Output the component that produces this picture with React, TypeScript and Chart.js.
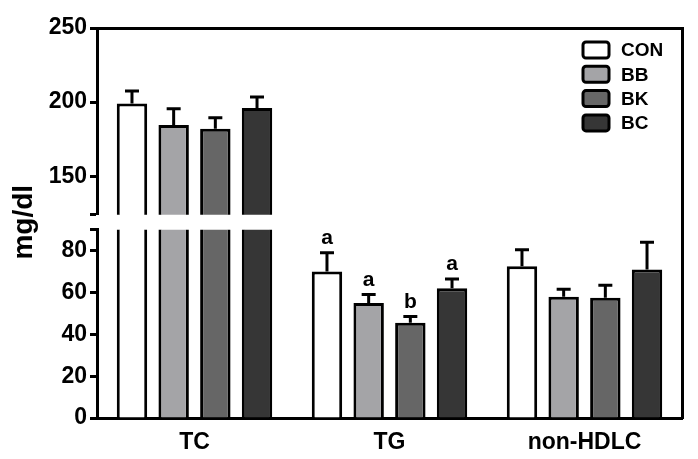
import React, { useEffect, useRef } from 'react';
import { Chart, registerables } from 'chart.js';

Chart.register(...registerables);

const categories = ['TC', 'TG', 'non-HDLC'];
const seriesNames = ['CON', 'BB', 'BK', 'BC'];
const conValues = [199, 70, 72.5];
const bbValues = [184.5, 55, 58];
const bkValues = [182, 45.5, 57.5];
const bcValues = [196, 62, 71];
const conErrors = [8.5, 9, 8];
const bbErrors = [11, 4, 3.5];
const bkErrors = [7.5, 3, 6];
const bcErrors = [7.5, 4.5, 13];
const conLetters = ['', 'a', ''];
const bbLetters = ['', 'a', ''];
const bkLetters = ['', 'b', ''];
const bcLetters = ['', 'a', ''];
const lowTicks = [0, 20, 40, 60, 80];
const highTicks = [150, 200, 250];
const lowRange = [0, 90];
const highRange = [124, 250];
const yTitle = 'mg/dl';
const seriesColors = ['#ffffff', '#a4a4a7', '#666666', '#363636'];

const FONT = '"Liberation Sans", Arial, Helvetica, sans-serif';

const seriesValues = [conValues, bbValues, bkValues, bcValues];
const seriesErrors = [conErrors, bbErrors, bkErrors, bcErrors];
const seriesLetters = [conLetters, bbLetters, bkLetters, bcLetters];

const errorBarsPlugin = {
  id: 'errorBars',
  afterDatasetsDraw(chart: any) {
    const ctx = chart.ctx;
    const area = chart.chartArea;
    chart.data.datasets.forEach((ds: any, di: number) => {
      const meta = chart.getDatasetMeta(di);
      const yScale = chart.scales[ds.yAxisID];
      ctx.save();
      ctx.beginPath();
      ctx.rect(area.left, yScale.top, area.right - area.left, yScale.bottom - yScale.top);
      ctx.clip();
      meta.data.forEach((bar: any, i: number) => {
        const v = ds.data[i];
        const e = ds.errors[i];
        const yTop = yScale.getPixelForValue(v);
        const yCap = yScale.getPixelForValue(v + e);
        ctx.strokeStyle = '#000';
        ctx.lineWidth = 3;
        ctx.lineCap = 'butt';
        ctx.beginPath();
        ctx.moveTo(bar.x, yTop);
        ctx.lineTo(bar.x, yCap);
        ctx.moveTo(bar.x - 7, yCap);
        ctx.lineTo(bar.x + 7, yCap);
        ctx.stroke();
        const letter = ds.letters[i];
        if (letter) {
          ctx.fillStyle = '#000';
          ctx.font = `bold 21px ${FONT}`;
          ctx.textAlign = 'center';
          ctx.textBaseline = 'alphabetic';
          ctx.fillText(letter, bar.x, yCap - 9);
        }
      });
      ctx.restore();
    });
  },
};

const legendPlugin = {
  id: 'boxLegend',
  afterDraw(chart: any) {
    const ctx = chart.ctx;
    const area = chart.chartArea;
    const items = chart.data.datasets.filter((d: any) => d.yAxisID === 'yHigh');
    const boxLeft = area.right - 99;
    const top0 = area.top + 14;
    ctx.save();
    items.forEach((d: any, i: number) => {
      const y = top0 + i * 24.3;
      ctx.beginPath();
      const w = 26, h = 16, r = 3;
      ctx.lineWidth = 3;
      ctx.strokeStyle = '#000';
      ctx.fillStyle = d.backgroundColor;
      ctx.moveTo(boxLeft + r, y);
      ctx.arcTo(boxLeft + w, y, boxLeft + w, y + h, r);
      ctx.arcTo(boxLeft + w, y + h, boxLeft, y + h, r);
      ctx.arcTo(boxLeft, y + h, boxLeft, y, r);
      ctx.arcTo(boxLeft, y, boxLeft + w, y, r);
      ctx.closePath();
      ctx.fill();
      ctx.stroke();
      ctx.fillStyle = '#000';
      ctx.font = `bold 19px ${FONT}`;
      ctx.textAlign = 'left';
      ctx.textBaseline = 'middle';
      ctx.fillText(d.label, boxLeft + 38, y + h / 2 + 1);
    });
    ctx.restore();
  },
};

export default function App() {
  const ref = useRef<HTMLCanvasElement | null>(null);

  useEffect(() => {
    if (!ref.current) return;
    const datasets: any[] = [];
    ['yLow', 'yHigh'].forEach((axis) => {
      seriesNames.forEach((name, si) => {
        datasets.push({
          label: name,
          data: seriesValues[si],
          errors: seriesErrors[si],
          letters: axis === 'yLow' ? seriesLetters[si] : ['', '', ''],
          xAxisID: 'x',
          yAxisID: axis,
          stack: name,
          backgroundColor: seriesColors[si],
          borderColor: '#000000',
          borderWidth: 3,
          borderSkipped: 'start',
          clip: 0,
          barPercentage: 0.73,
          categoryPercentage: 0.855,
        });
      });
    });

    const tickFont = { family: FONT, size: 23, weight: 'bold' as const };
    const leftWidth = (s: any) => { s.width = 97; };

    const chart = new Chart(ref.current, {
      type: 'bar',
      data: { labels: categories, datasets },
      options: {
        animation: false,
        responsive: true,
        maintainAspectRatio: false,
        layout: { padding: { top: 28, right: 16, left: 0, bottom: 0 } },
        plugins: { legend: { display: false }, tooltip: { enabled: false } },
        scales: {
          x: {
            type: 'category',
            position: 'bottom',
            grid: { display: false, drawTicks: false },
            border: { display: true, width: 3, color: '#000' },
            ticks: { color: '#000', font: tickFont, padding: 11 },
            afterFit: (s: any) => { s.height = 41; },
          },
          xTop: {
            type: 'category',
            position: 'top',
            grid: { display: false, drawTicks: false },
            border: { display: true, width: 3, color: '#000' },
            ticks: { display: false },
            afterFit: (s: any) => { s.height = 0; },
          },
          yLow: {
            type: 'linear',
            position: 'left',
            stack: 'left',
            stackWeight: 188,
            stacked: false,
            min: lowRange[0],
            max: lowRange[1],
            afterBuildTicks: (s: any) => {
              s.ticks = [...lowTicks, lowRange[1]].map((v) => ({ value: v }));
            },
            ticks: {
              color: '#000',
              font: tickFont,
              padding: 3,
              autoSkip: false,
              callback: (v: any) => (lowTicks.includes(Number(v)) ? String(v) : ''),
            },
            grid: { drawOnChartArea: false, drawTicks: true, tickLength: 7, tickWidth: 3, tickColor: '#000' },
            border: { display: true, width: 3, color: '#000' },
            afterFit: leftWidth,
          },
          yGap: {
            type: 'linear',
            position: 'left',
            stack: 'left',
            stackWeight: 15,
            min: 0,
            max: 1,
            ticks: { display: false },
            grid: { display: false, drawTicks: false },
            border: { display: false },
            title: {
              display: true,
              text: yTitle,
              color: '#000',
              font: { family: FONT, size: 28, weight: 'bold' },
              padding: { top: 7, bottom: 0 },
            },
            afterFit: leftWidth,
          },
          yHigh: {
            type: 'linear',
            position: 'left',
            stack: 'left',
            stackWeight: 186.5,
            stacked: false,
            min: highRange[0],
            max: highRange[1],
            afterBuildTicks: (s: any) => {
              s.ticks = [highRange[0], ...highTicks].map((v) => ({ value: v }));
            },
            ticks: {
              color: '#000',
              font: tickFont,
              padding: 3,
              autoSkip: false,
              callback: (v: any) => (highTicks.includes(Number(v)) ? String(v) : ''),
            },
            grid: { drawOnChartArea: false, drawTicks: true, tickLength: 7, tickWidth: 3, tickColor: '#000' },
            border: { display: true, width: 3, color: '#000' },
            afterFit: leftWidth,
          },
          yR: {
            type: 'linear',
            position: 'right',
            min: 0,
            max: 1,
            ticks: { display: false },
            grid: { display: false, drawTicks: false },
            border: { display: true, width: 3, color: '#000' },
            afterFit: (s: any) => { s.width = 0; },
          },
        },
      } as any,
      plugins: [errorBarsPlugin, legendPlugin],
    });
    return () => chart.destroy();
  }, []);

  return (
    <div style={{ position: 'fixed', left: 0, top: 0, width: 698, height: 459, background: '#fff' }}>
      <canvas ref={ref} />
    </div>
  );
}
